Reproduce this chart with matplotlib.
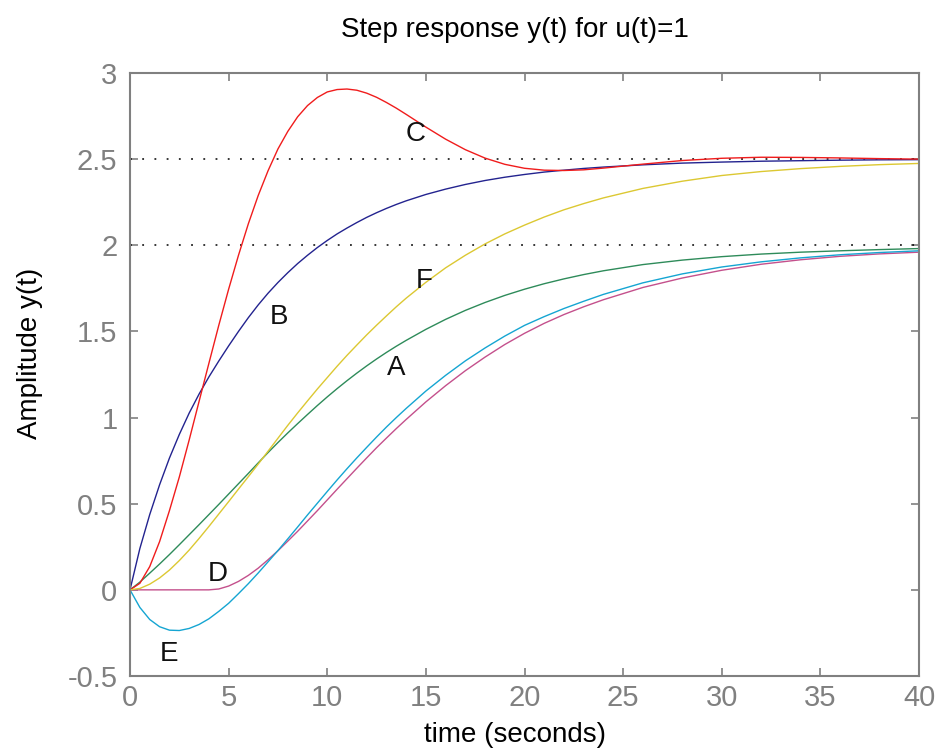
import matplotlib
matplotlib.use("Agg")
import matplotlib.pyplot as plt

# time grid (seconds) shared by all step responses
time_s = [0, 0.5, 1, 1.5, 2, 2.5, 3, 3.5, 4, 4.5, 5, 5.5, 6, 6.5, 7, 7.5, 8, 8.5,
          9, 9.5, 10, 10.5, 11, 11.5, 12, 12.5, 13, 13.5, 14, 15, 16, 17, 18, 19,
          20, 21, 22, 23, 24, 26, 28, 30, 32, 34, 36, 38, 40]

# responses
resp_a = [0, 0.045, 0.097, 0.15, 0.205, 0.262, 0.32, 0.378, 0.437, 0.496, 0.556,
          0.616, 0.676, 0.737, 0.797, 0.855, 0.911, 0.965, 1.018, 1.07, 1.12,
          1.168, 1.214, 1.258, 1.30, 1.34, 1.378, 1.414, 1.448, 1.512, 1.57,
          1.622, 1.668, 1.709, 1.745, 1.777, 1.805, 1.83, 1.852, 1.888, 1.914,
          1.934, 1.949, 1.96, 1.968, 1.975, 1.981]
resp_b = [0, 0.24, 0.437, 0.61, 0.765, 0.902, 1.026, 1.136, 1.236, 1.328, 1.416,
          1.50, 1.58, 1.654, 1.722, 1.784, 1.841, 1.894, 1.942, 1.987, 2.028,
          2.066, 2.10, 2.132, 2.162, 2.189, 2.214, 2.237, 2.258, 2.295, 2.326,
          2.353, 2.376, 2.395, 2.411, 2.425, 2.436, 2.446, 2.454, 2.467, 2.477,
          2.483, 2.488, 2.491, 2.494, 2.496, 2.497]
resp_c = [0, 0.038, 0.135, 0.28, 0.46, 0.655, 0.87, 1.093, 1.315, 1.535, 1.745,
          1.942, 2.125, 2.289, 2.433, 2.559, 2.661, 2.746, 2.811, 2.858, 2.890,
          2.904, 2.907, 2.900, 2.883, 2.859, 2.829, 2.796, 2.760, 2.686, 2.616,
          2.555, 2.506, 2.470, 2.447, 2.436, 2.434, 2.438, 2.448, 2.471, 2.492,
          2.505, 2.511, 2.510, 2.507, 2.503, 2.500]
resp_d = [0, 0, 0, 0, 0, 0, 0, 0, 0, 0.005, 0.022, 0.049, 0.084, 0.126, 0.175,
          0.227, 0.283, 0.34, 0.40, 0.46, 0.522, 0.584, 0.645, 0.706, 0.766,
          0.825, 0.881, 0.936, 0.989, 1.091, 1.185, 1.272, 1.351, 1.424, 1.489,
          1.547, 1.598, 1.643, 1.684, 1.755, 1.81, 1.855, 1.89, 1.916, 1.936,
          1.95, 1.96]
resp_e = [0, -0.102, -0.172, -0.214, -0.234, -0.236, -0.224, -0.201, -0.168,
          -0.125, -0.078, -0.022, 0.036, 0.098, 0.163, 0.228, 0.296, 0.365, 0.435,
          0.503, 0.571, 0.638, 0.703, 0.766, 0.827, 0.887, 0.945, 1.0, 1.053,
          1.154, 1.245, 1.329, 1.404, 1.473, 1.535, 1.586, 1.633, 1.675, 1.715,
          1.782, 1.834, 1.874, 1.904, 1.927, 1.945, 1.958, 1.968]
resp_f = [0, 0.008, 0.033, 0.069, 0.115, 0.17, 0.231, 0.298, 0.368, 0.44, 0.512,
          0.585, 0.657, 0.73, 0.805, 0.88, 0.955, 1.027, 1.097, 1.166, 1.232,
          1.298, 1.361, 1.421, 1.48, 1.536, 1.59, 1.643, 1.693, 1.785, 1.869,
          1.942, 2.008, 2.066, 2.117, 2.164, 2.206, 2.242, 2.275, 2.33, 2.372,
          2.405, 2.428, 2.445, 2.458, 2.468, 2.475]

steady_levels = [2.0, 2.5]

curve_names = ["A", "B", "C", "D", "E", "F"]
label_t = [13.5, 7.55, 14.5, 4.45, 1.98, 14.9]
label_y = [1.285, 1.585, 2.645, 0.09, -0.37, 1.79]

x_ticks = [0, 5, 10, 15, 20, 25, 30, 35, 40]
y_ticks = [-0.5, 0, 0.5, 1, 1.5, 2, 2.5, 3]
y_tick_labels = ["-0.5", "0", "0.5", "1", "1.5", "2", "2.5", "3"]

colors = {
    "A": "#2e8b5a",
    "B": "#23238f",
    "C": "#f01c1c",
    "D": "#c4508c",
    "E": "#15a5d2",
    "F": "#dcc832",
}

plt.rcParams["font.family"] = ["Liberation Sans", "DejaVu Sans"]
GREY = "#808080"

fig = plt.figure(figsize=(9.38, 7.5), dpi=100)
ax = fig.add_axes([130 / 938, 1 - 676 / 750, 789 / 938, 603 / 750])

# dotted steady-state guides
for level in steady_levels:
    ax.plot([x_ticks[0], x_ticks[-1]], [level, level], color="black",
            linestyle=(0, (1.2, 6.8)), linewidth=1.1)

series = [resp_a, resp_b, resp_c, resp_d, resp_e, resp_f]
for name, values in zip(curve_names, series):
    ax.plot(time_s, values, color=colors[name], linewidth=1.0)

for name, tx, ty in zip(curve_names, label_t, label_y):
    ax.text(tx, ty, name, fontsize=20, ha="center", va="center", color="#111111")

ax.set_xlim(0, 40)
ax.set_ylim(-0.5, 3)
ax.set_xticks(x_ticks)
ax.set_xticklabels([str(v) for v in x_ticks])
ax.set_yticks(y_ticks)
ax.set_yticklabels(y_tick_labels)

for spine in ax.spines.values():
    spine.set_color(GREY)
    spine.set_linewidth(1.5)
ax.tick_params(direction="in", top=True, right=True, length=6, width=1.2,
               color=GREY, labelcolor=GREY, labelsize=21)
ax.tick_params(axis="x", pad=6)
ax.tick_params(axis="y", pad=9)

fig.text(515 / 938, 1 - 30 / 750, "Step response y(t) for u(t)=1", fontsize=20,
         ha="center", va="center")
fig.text(515 / 938, 1 - 735 / 750, "time (seconds)", fontsize=20,
         ha="center", va="center")
fig.text(30 / 938, 1 - 353 / 750, "Amplitude y(t)", fontsize=20,
         ha="center", va="center", rotation=90)

fig.savefig("out.png", dpi=100)
